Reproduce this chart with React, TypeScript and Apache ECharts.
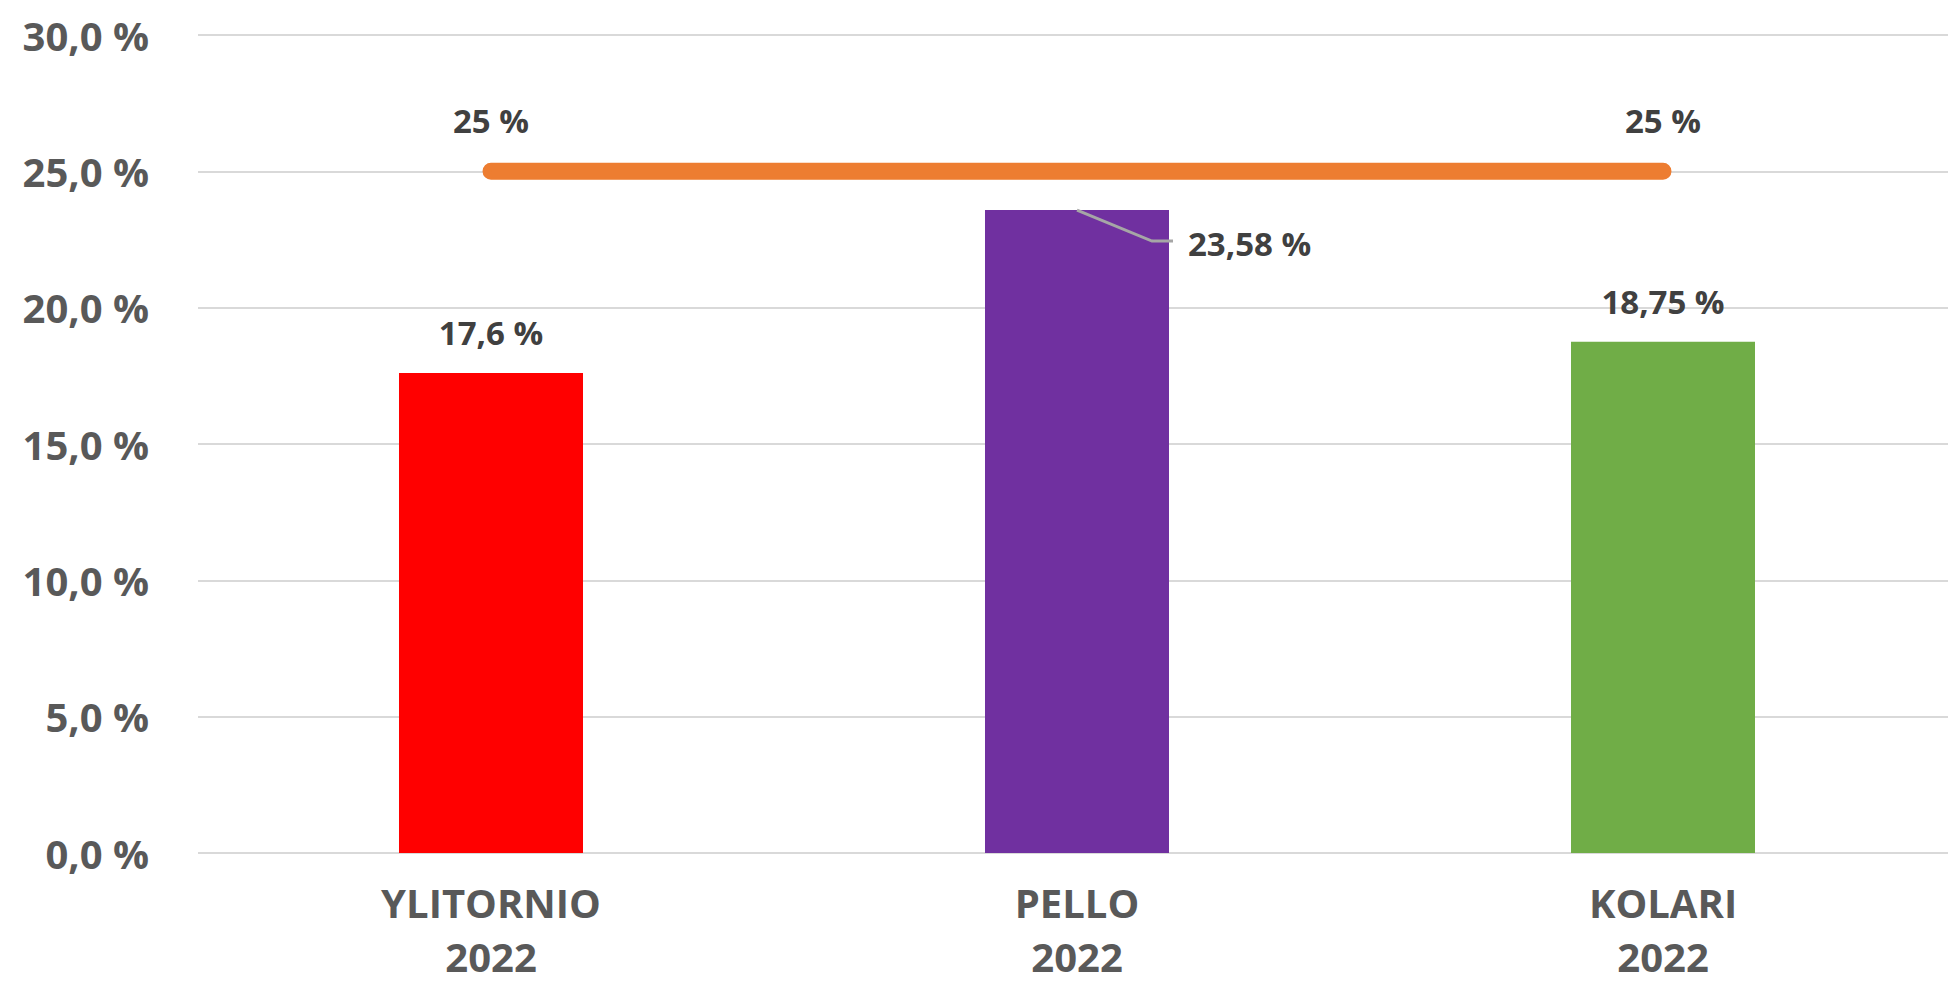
import React, { useEffect, useRef } from "react";
import * as echarts from "echarts";

const municipalities = ["YLITORNIO", "PELLO", "KOLARI"];
const years = ["2022", "2022", "2022"];
const shares = [17.6, 23.58, 18.75];
const barColors = ["#ff0000", "#7030a0", "#70ad47"];
const targetLine = [25, 25, 25];
const targetLabelShown = [true, false, true];
const yTicks = { min: 0, max: 30, interval: 5 };

const FONT = "'Open Sans', 'Noto Sans', sans-serif";

export default function App() {
  const ref = useRef<HTMLDivElement>(null);

  useEffect(() => {
    if (!ref.current) return;
    const chart = echarts.init(ref.current, undefined, { renderer: "svg" });
    const categories = municipalities.map((m, i) => `${m}\n${years[i]}`);
    const fmt = (v: number) => `${String(v).replace(".", ",")} %`;

    chart.setOption({
      animation: false,
      backgroundColor: "#ffffff",
      grid: {
        left: 198,
        top: 35,
        width: 1758,
        height: 818,
        outerBoundsMode: "none",
        containLabel: false,
      },
      xAxis: {
        type: "category",
        data: categories,
        axisLine: { show: false },
        axisTick: { show: false },
        axisLabel: {
          color: "#595959",
          fontFamily: FONT,
          fontWeight: "bold",
          fontSize: 40,
          lineHeight: 54,
          margin: 22,
        },
      },
      yAxis: {
        type: "value",
        min: yTicks.min,
        max: yTicks.max,
        interval: yTicks.interval,
        axisLine: { show: false },
        axisTick: { show: false },
        splitLine: { lineStyle: { color: "#d9d9d9", width: 2 } },
        axisLabel: {
          color: "#595959",
          fontFamily: FONT,
          fontWeight: "bold",
          fontSize: 40,
          margin: 49,
          formatter: (v: number) => `${v.toFixed(1).replace(".", ",")} %`,
        },
      },
      series: [
        {
          type: "bar",
          barWidth: "31.4%",
          data: shares.map((v, i) => {
            const item: any = { value: v, itemStyle: { color: barColors[i] } };
            if (i === 1) {
              item.label = {
                position: [203, 33],
                align: "left",
                verticalAlign: "middle",
              };
            }
            return item;
          }),
          label: {
            show: true,
            position: "top",
            distance: 24,
            color: "#404040",
            fontFamily: FONT,
            fontWeight: "bold",
            fontSize: 33,
            formatter: (p: any) => fmt(p.value),
          },
          z: 2,
        },
        {
          type: "line",
          data: targetLine.map((v, i) => ({
            value: v,
            label: { show: targetLabelShown[i] },
          })),
          symbol: "circle",
          symbolSize: 1,
          showSymbol: true,
          itemStyle: { color: "#ed7d31" },
          lineStyle: { color: "#ed7d31", width: 17, cap: "round" },
          label: {
            position: "top",
            distance: 34,
            color: "#404040",
            fontFamily: FONT,
            fontWeight: "bold",
            fontSize: 33,
            formatter: (p: any) => fmt(p.value),
          },
          z: 3,
        },
      ],
    });

    const p = chart.convertToPixel({ gridIndex: 0 }, [1, shares[1]]) as number[];
    chart.setOption({
      graphic: [
        {
          type: "polyline",
          shape: {
            points: [
              [p[0], p[1]],
              [p[0] + 75, p[1] + 31],
              [p[0] + 96, p[1] + 31],
            ],
          },
          style: { stroke: "#a6a6a6", lineWidth: 3, fill: "none" },
          z: 10,
        },
      ],
    });

    return () => chart.dispose();
  }, []);

  return (
    <div
      ref={ref}
      style={{ position: "fixed", left: 0, top: 0, width: 1948, height: 985 }}
    />
  );
}
